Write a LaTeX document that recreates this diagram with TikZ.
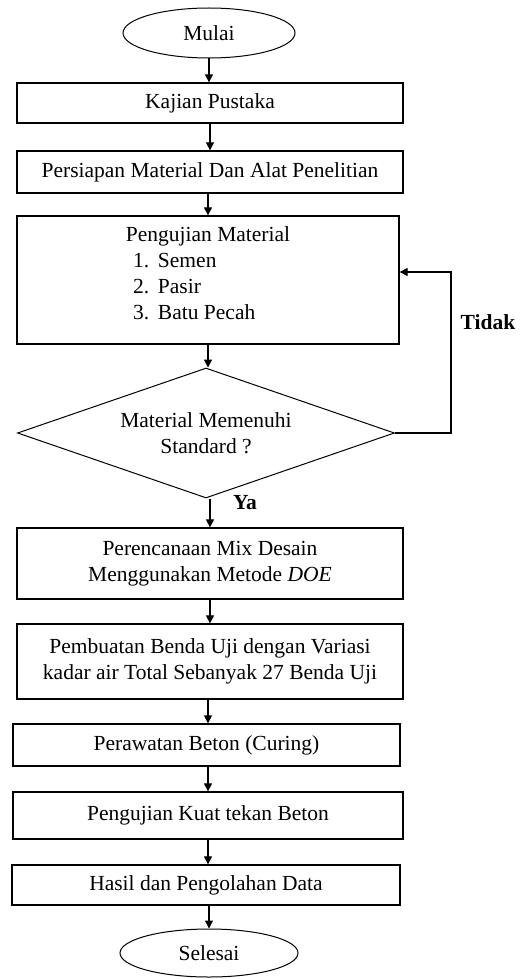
\documentclass[tikz,border=0pt]{standalone}
\usepackage{fontspec}
\setmainfont{Liberation Serif}
\usetikzlibrary{arrows.meta, shapes.geometric}

\begin{document}
\begin{tikzpicture}[
        x=1pt, y=-1pt,
        txt/.style={font=\fontsize{21.5}{26}\selectfont},
        b/.style={draw, line width=1.3pt, minimum width=386pt, align=center, inner sep=0pt, txt},
        e/.style={draw, ellipse, line width=1pt, minimum width=172pt, minimum height=50pt, inner sep=0pt, txt},
        d/.style={draw, diamond, aspect=2.9, line width=1pt, minimum width=377pt, minimum height=130pt, inner sep=0pt, align=center, txt},
        lbl/.style={font=\fontsize{21.5}{26}\selectfont\bfseries},
        >={Triangle[length=8pt, width=8pt]}, line width=1.2pt
    ]
        \useasboundingbox (0,0) rectangle (529,979);

        \node[e] (mulai) at (209,33) {Mulai};
        \node[b, minimum height=40pt] (kaji) at (210,103) {Kajian Pustaka};
        \node[b, minimum height=42pt] (siap) at (210,172) {Persiapan Material Dan Alat Penelitian};
        \node[b, minimum height=128pt, minimum width=382pt] (uji) at (208,280) {};
        \node[txt, align=center] (ujit) at (208,273) {Pengujian Material\\
            \makebox[150pt][l]{\makebox[25pt][l]{1.}Semen}\\
            \makebox[150pt][l]{\makebox[25pt][l]{2.}Pasir}\\
            \makebox[150pt][l]{\makebox[25pt][l]{3.}Batu Pecah}};
        \node[d] (cek) at (206,433) {Material Memenuhi\\Standard ?};

        \node[b, minimum height=71pt] (renc) at (210,563.5) {Perencanaan Mix Desain\\Menggunakan Metode \textit{DOE}};
        \node[b, minimum height=75pt] (buat) at (210,661.5) {Pembuatan Benda Uji dengan Variasi\\kadar air Total Sebanyak 27 Benda Uji};
        \node[b, minimum height=42pt, minimum width=387pt] (rawat) at (206.5,745) {Perawatan Beton (Curing)};
        \node[b, minimum height=47pt, minimum width=390pt] (tekan) at (208,815.5) {Pengujian Kuat tekan Beton};
        \node[b, minimum height=40pt, minimum width=388pt] (hasil) at (206,885) {Hasil dan Pengolahan Data};
        \node[e, minimum width=178pt, minimum height=48pt] (selesai) at (209,953) {Selesai};

        \node[lbl] (ya) at (245,503) {Ya};
        \node[lbl] (tidak) at (488,322) {Tidak};

        \draw[->] (mulai) -- (mulai |- kaji.north);
        \draw[->] (kaji) -- (kaji |- siap.north);
        \draw[->] (siap.south -| uji) -- (uji);
        \draw[->] (uji) -- (uji |- cek.north);
        \draw[->] (cek.south -| renc) -- (renc);
        \draw[->] (renc) -- (buat);
        \draw[->] (buat.south -| tekan) -- (tekan |- rawat.north);
        \draw[->] (rawat.south -| tekan) -- (tekan);
        \draw[->] (tekan) -- (tekan |- hasil.north);
        \draw[->] (hasil.south -| selesai) -- (selesai);
        \draw[->] (cek.east) -- ++(56,0) |- ([yshift=8pt]uji.east);
    \end{tikzpicture}
\end{document}
